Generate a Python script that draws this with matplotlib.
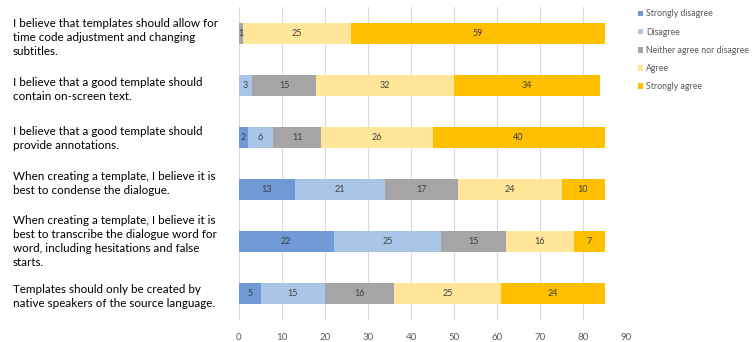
import numpy as np
import matplotlib.pyplot as plt
import matplotlib.transforms as mtransforms

## Dados (de cima para baixo)
statements = [
    "I believe that templates should allow for\ntime code adjustment and changing\nsubtitles.",
    "I believe that a good template should\ncontain on-screen text.",
    "I believe that a good template should\nprovide annotations.",
    "When creating a template, I believe it is\nbest to condense the dialogue.",
    "When creating a template, I believe it is\nbest to transcribe the dialogue word for\nword, including hesitations and false\nstarts.",
    "Templates should only be created by\nnative speakers of the source language.",
]
levels = ["Strongly disagree", "Disagree", "Neither agree nor disagree", "Agree", "Strongly agree"]
strongly_disagree = [0, 0, 2, 13, 22, 5]
disagree = [0, 3, 6, 21, 25, 15]
neither = [1, 15, 11, 17, 15, 16]
agree = [25, 32, 26, 24, 16, 25]
strongly_agree = [59, 34, 40, 10, 7, 24]
x_ticks = [0, 10, 20, 30, 40, 50, 60, 70, 80, 90]

series = [strongly_disagree, disagree, neither, agree, strongly_agree]
colors = ['#7099d6', '#a9c6e9', '#a5a5a5', '#ffe699', '#ffc000']

fig = plt.figure(figsize=(7.55, 3.42), dpi=100)
ax = fig.add_axes([239 / 755, 1 - 320 / 342, (626 - 239) / 755, (320 - 7) / 342])

y = np.arange(len(statements))
left = np.zeros(len(statements))
for name, vals, c in zip(levels, series, colors):
    vals = np.array(vals)
    bars = ax.barh(y, vals, left=left, height=0.4, color=c, label=name)
    for b, v in zip(bars, vals):
        if v > 0:
            ax.text(b.get_x() + b.get_width() / 2, b.get_y() + b.get_height() / 2, str(v),
                    ha='center', va='center', fontsize=6.5, color='#404040', family='Lato')
    left += vals

ax.set_xlim(0, 90)
ax.set_ylim(len(statements) - 0.5, -0.5)
ax.set_xticks(x_ticks)
ax.set_xticklabels([str(t) for t in x_ticks], fontsize=7, color='#595959', family='Lato')
ax.tick_params(axis='x', length=0, pad=9)
ax.set_yticks(y)
ax.set_yticklabels(statements, fontsize=8.4, family='Lato', ha='left', linespacing=1.32)
ax.tick_params(axis='y', length=0, pad=163)

# os textos da esquerda não ficam exatamente centrados nas barras
shifts = [-1.5, -1, 1, 6, 2, 0]
for lab, dy in zip(ax.get_yticklabels(), shifts):
    lab.set_transform(lab.get_transform() + mtransforms.ScaledTranslation(0, dy / 72, fig.dpi_scale_trans))

ax.grid(axis='x', color='#d9d9d9', linewidth=0.8)
ax.set_axisbelow(True)
for s in ax.spines.values():
    s.set_visible(False)

leg = fig.legend(loc='upper left', bbox_to_anchor=(634 / 755, 1 - 6 / 342), frameon=False,
                 prop={'family': 'Lato', 'size': 6.3}, handlelength=0.6, handleheight=0.6,
                 handletextpad=0.4, labelspacing=1.05, borderaxespad=0)
for t in leg.get_texts():
    t.set_color('#595959')

plt.savefig('out.png', dpi=100)
